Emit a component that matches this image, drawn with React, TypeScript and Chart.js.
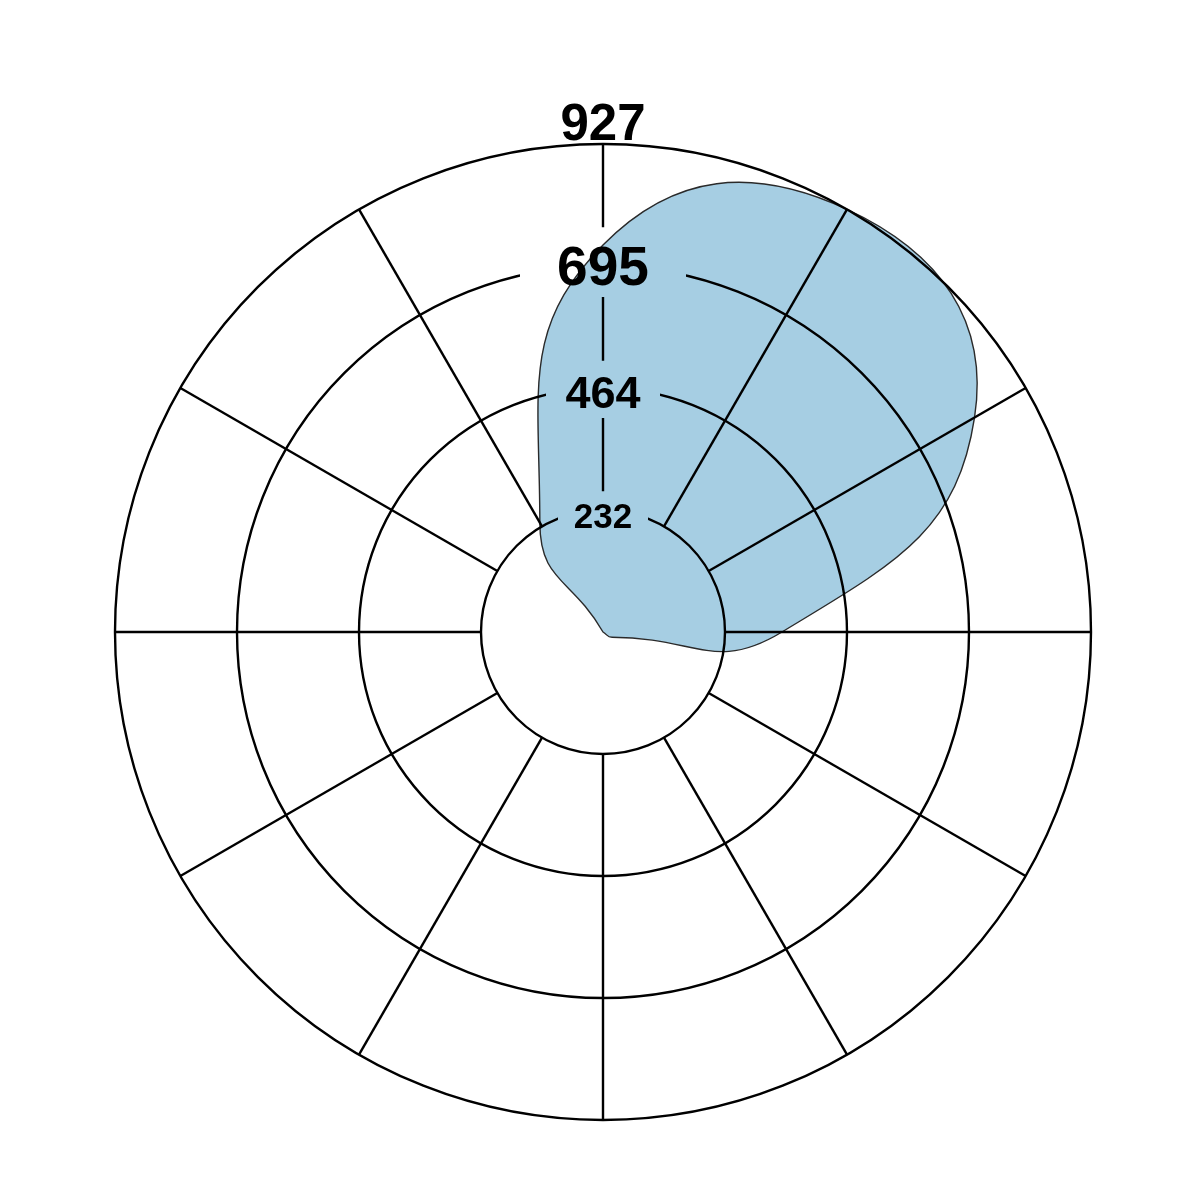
import React, { useEffect, useRef } from 'react';
import { Chart, registerables } from 'chart.js';

Chart.register(...registerables);

// 12 directions, clockwise from the top
const directions = ['0°', '30°', '60°', '90°', '120°', '150°', '180°', '210°', '240°', '270°', '300°', '330°'];
const values = [735, 927, 815, 340, 20, 0, 0, 0, 0, 0, 0, 240];

// radial ticks (max of the data split into 4)
const scaleMax = 927;
const tickValues = [231.75, 463.5, 695.25, 927];
const tickLabels = ['232', '464', '695', '927'];

// tick label styling
const labelFontSizes = [35, 45, 55, 51];
const labelBaselineShift = [18, 20, 19, -4];
const labelHalfGap = [45, 57, 83, 0];
const fontFamily = "'Liberation Sans', Arial, Helvetica, sans-serif";

const polarGrid = {
  id: 'polarGrid',
  afterDatasetsDraw(chart: any) {
    const scale = chart.scales.r;
    const ctx: CanvasRenderingContext2D = chart.ctx;
    const cx = scale.xCenter;
    const cy = scale.yCenter;
    const n = chart.data.labels.length;

    const boxes = tickValues.map((v, i) => {
      const d = scale.getDistanceFromCenterForValue(v);
      const fs = labelFontSizes[i];
      const base = cy - d + labelBaselineShift[i];
      return {
        base,
        fs,
        x: cx - labelHalfGap[i],
        y: base - 1.05 * fs,
        w: labelHalfGap[i] * 2,
        h: 1.27 * fs,
      };
    });

    // grid lines, broken where the labels sit
    ctx.save();
    ctx.beginPath();
    ctx.rect(0, 0, chart.width, chart.height);
    boxes.forEach((b) => {
      if (b.w > 0) ctx.rect(b.x, b.y, b.w, b.h);
    });
    ctx.clip('evenodd');
    ctx.strokeStyle = '#000';
    ctx.lineWidth = 2.4;
    tickValues.forEach((v) => {
      const d = scale.getDistanceFromCenterForValue(v);
      ctx.beginPath();
      ctx.arc(cx, cy, d, 0, Math.PI * 2);
      ctx.stroke();
    });
    const inner = scale.getDistanceFromCenterForValue(tickValues[0]);
    const outer = scale.getDistanceFromCenterForValue(scaleMax);
    for (let i = 0; i < n; i++) {
      const a = scale.getPointPosition(i, inner);
      const b = scale.getPointPosition(i, outer);
      ctx.beginPath();
      ctx.moveTo(a.x, a.y);
      ctx.lineTo(b.x, b.y);
      ctx.stroke();
    }
    ctx.restore();

    // tick labels
    ctx.save();
    ctx.fillStyle = '#000';
    ctx.textAlign = 'center';
    ctx.textBaseline = 'alphabetic';
    boxes.forEach((b, i) => {
      ctx.font = `bold ${b.fs}px ${fontFamily}`;
      ctx.fillText(tickLabels[i], cx, b.base);
    });
    ctx.restore();
  },
};

const RadarBlob: React.FC = () => {
  const chartRef = useRef<HTMLCanvasElement>(null);
  const chartInstance = useRef<Chart | null>(null);

  useEffect(() => {
    if (chartRef.current) {
      if (chartInstance.current) {
        chartInstance.current.destroy();
      }
      const ctx = chartRef.current.getContext('2d');
      if (ctx) {
        chartInstance.current = new Chart(ctx, {
          type: 'radar',
          data: {
            labels: directions,
            datasets: [
              {
                label: 'value',
                data: values,
                fill: true,
                backgroundColor: '#a6cee3',
                borderColor: '#2a2a2a',
                borderWidth: 1.4,
                tension: 0.5,
                pointRadius: 0,
                pointHoverRadius: 0,
              },
            ],
          },
          options: {
            responsive: true,
            maintainAspectRatio: false,
            animation: false,
            layout: {
              padding: { left: 115, right: 110, top: 144, bottom: 81 },
            },
            plugins: {
              legend: { display: false },
              tooltip: { enabled: false },
            },
            scales: {
              r: {
                min: 0,
                max: scaleMax,
                ticks: { display: false, stepSize: 231.75 },
                grid: { display: false },
                angleLines: { display: false },
                pointLabels: { display: false },
              },
            },
          },
          plugins: [polarGrid],
        });
      }
    }

    return () => {
      if (chartInstance.current) {
        chartInstance.current.destroy();
        chartInstance.current = null;
      }
    };
  }, []);

  return (
    <div style={{ position: 'absolute', left: 0, top: 0, width: 1201, height: 1201, background: '#fff' }}>
      <canvas ref={chartRef}></canvas>
    </div>
  );
};

export default function App() {
  return <RadarBlob />;
}
